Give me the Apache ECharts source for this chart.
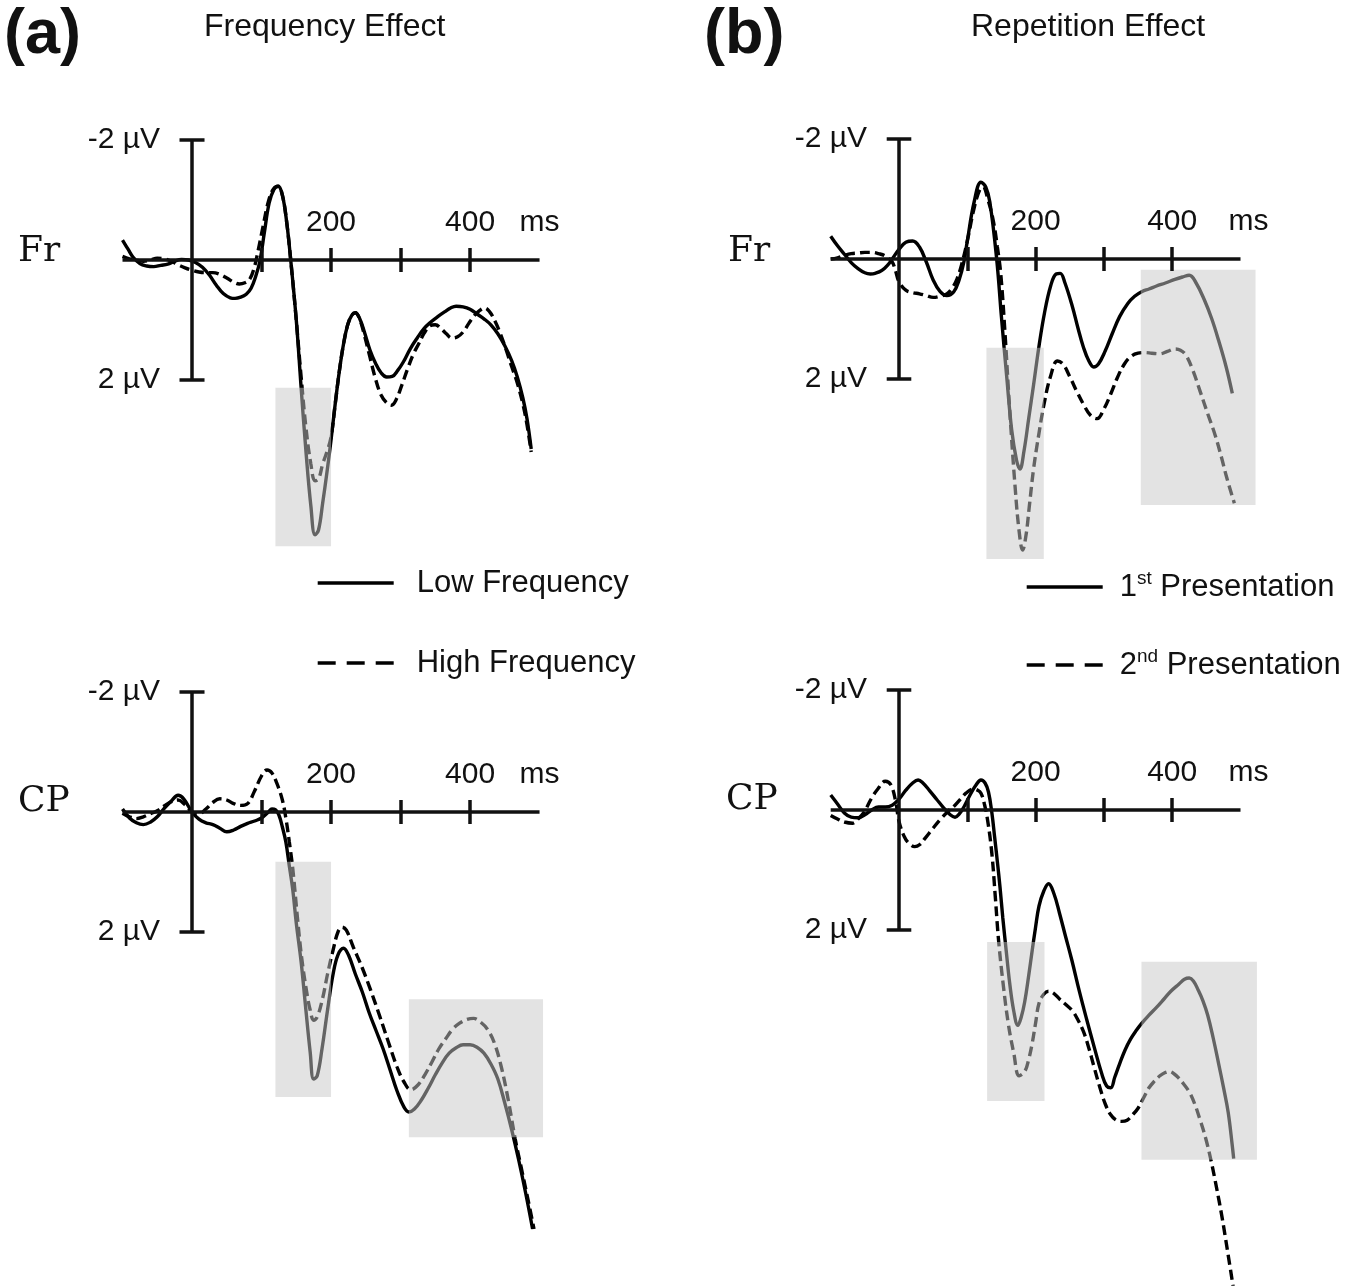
<!DOCTYPE html>
<html><head><meta charset="utf-8">
<script src="https://cdn.jsdelivr.net/npm/echarts@6/dist/echarts.min.js"></script>
<style>html,body{margin:0;padding:0;background:#fff}#c{width:1372px;height:1288px}</style>
</head><body><div id="c"></div>
<script>
// ---------- data (time in ms, amplitude in µV; negative plotted up) ----------
const aFrLow = [[-100,-0.33],[-92,-0.18],[-85,-0.05],[-75,0.06],[-65,0.1],[-55,0.11],[-45,0.09],[-35,0.07],[-25,0.02],[-15,-0.01],[-5,0.0],[5,0.04],[15,0.12],[25,0.25],[35,0.42],[45,0.56],[55,0.63],[62,0.64],[70,0.62],[78,0.57],[85,0.47],[92,0.26],[98,0.0],[104,-0.45],[111,-0.95],[118,-1.18],[124,-1.23],[130,-1.08],[136,-0.65],[142,0.0],[150,1.0],[157,2.13],[164,3.2],[171,4.1],[177,4.58],[182,4.5],[188,4.05],[194,3.55],[200,3.0],[206,2.4],[212,1.85],[218,1.4],[224,1.08],[230,0.92],[235,0.88],[241,0.97],[248,1.2],[256,1.5],[264,1.72],[272,1.88],[280,1.95],[288,1.94],[296,1.84],[304,1.7],[314,1.48],[324,1.3],[334,1.14],[344,1.03],[354,0.94],[364,0.86],[372,0.8],[380,0.77],[390,0.78],[400,0.82],[410,0.9],[420,0.98],[430,1.08],[440,1.23],[450,1.43],[460,1.68],[468,1.95],[476,2.3],[482,2.65],[488,3.15]];
const aFrHigh = [[-100,-0.06],[-90,-0.02],[-80,0.0],[-70,0.02],[-60,0.0],[-50,-0.03],[-40,-0.02],[-30,0.02],[-20,0.08],[-10,0.13],[0,0.17],[10,0.2],[20,0.21],[30,0.21],[40,0.24],[50,0.3],[60,0.37],[68,0.4],[76,0.38],[83,0.32],[89,0.15],[95,-0.15],[102,-0.55],[110,-0.98],[117,-1.18],[124,-1.23],[130,-1.08],[136,-0.65],[142,0.0],[150,1.0],[157,1.95],[164,2.8],[171,3.4],[177,3.68],[182,3.65],[188,3.4],[194,3.2],[200,2.95],[206,2.4],[212,1.85],[218,1.4],[224,1.08],[230,0.92],[235,0.88],[241,0.98],[248,1.25],[256,1.62],[264,1.98],[272,2.25],[280,2.38],[287,2.42],[294,2.32],[302,2.08],[310,1.82],[318,1.58],[326,1.4],[334,1.22],[342,1.1],[350,1.08],[358,1.14],[366,1.23],[374,1.3],[382,1.28],[390,1.2],[398,1.06],[406,0.93],[414,0.84],[421,0.8],[428,0.86],[436,1.02],[444,1.24],[452,1.5],[460,1.78],[468,2.05],[476,2.4],[482,2.75],[488,3.2]];
const aCPLow = [[-100,-0.05],[-90,0.1],[-80,0.18],[-70,0.21],[-60,0.17],[-50,0.08],[-40,-0.06],[-30,-0.18],[-20,-0.28],[-12,-0.22],[0,0.0],[10,0.12],[20,0.18],[30,0.21],[40,0.27],[50,0.33],[60,0.3],[70,0.24],[80,0.19],[90,0.15],[100,0.1],[110,0.0],[115,-0.05],[120,-0.04],[125,0.05],[130,0.25],[135,0.5],[140,0.9],[145,1.3],[150,1.85],[157,2.5],[163,3.2],[170,4.0],[175,4.45],[180,4.4],[187,3.95],[195,3.3],[203,2.7],[210,2.38],[218,2.27],[225,2.38],[235,2.7],[245,3.0],[255,3.35],[265,3.65],[275,3.95],[285,4.3],[295,4.65],[305,4.92],[312,5.0],[320,4.95],[330,4.8],[340,4.6],[350,4.38],[360,4.18],[370,4.02],[380,3.93],[390,3.88],[400,3.88],[410,3.92],[420,4.02],[430,4.2],[440,4.45],[450,4.85],[460,5.3],[470,5.8],[480,6.35],[490,6.95]];
const aCPHigh = [[-100,0.02],[-90,0.08],[-80,0.11],[-70,0.08],[-60,0.03],[-50,-0.02],[-40,-0.1],[-30,-0.17],[-20,-0.2],[-10,-0.12],[0,0.0],[10,0.03],[20,-0.05],[30,-0.16],[40,-0.22],[50,-0.2],[60,-0.14],[70,-0.11],[80,-0.14],[90,-0.35],[100,-0.6],[108,-0.7],[115,-0.65],[122,-0.48],[130,-0.2],[135,0.1],[140,0.5],[145,0.95],[152,1.8],[158,2.45],[165,3.0],[170,3.3],[175,3.47],[180,3.42],[188,3.1],[195,2.7],[203,2.3],[210,2.0],[216,1.92],[222,1.97],[232,2.25],[245,2.6],[257,2.97],[270,3.4],[283,3.85],[295,4.25],[305,4.5],[315,4.63],[325,4.55],[335,4.38],[345,4.17],[355,3.95],[365,3.78],[375,3.62],[385,3.52],[395,3.46],[405,3.44],[415,3.5],[425,3.62],[435,3.85],[445,4.25],[455,4.8],[465,5.45],[475,6.0],[485,6.55],[492,6.95]];
const bFrFirst = [[-100,-0.38],[-90,-0.22],[-80,-0.08],[-70,0.06],[-60,0.16],[-50,0.23],[-42,0.25],[-35,0.24],[-25,0.19],[-15,0.08],[-10,0.0],[0,-0.16],[10,-0.28],[20,-0.3],[30,-0.2],[40,0.05],[50,0.35],[60,0.54],[70,0.61],[80,0.55],[88,0.35],[95,0.05],[100,-0.3],[110,-0.95],[120,-1.28],[127,-1.2],[133,-0.95],[143,0.0],[150,0.97],[158,2.0],[165,2.85],[172,3.35],[177,3.5],[183,3.2],[190,2.65],[197,2.1],[205,1.45],[213,0.9],[222,0.45],[230,0.25],[236,0.24],[243,0.4],[254,0.8],[262,1.15],[270,1.47],[278,1.7],[285,1.8],[292,1.75],[302,1.53],[312,1.25],[323,0.96],[335,0.74],[345,0.62],[356,0.54],[366,0.5],[377,0.45],[390,0.4],[404,0.34],[415,0.3],[425,0.27],[435,0.4],[447,0.68],[458,1.0],[468,1.36],[479,1.8],[488,2.24]];
const bFrSecond = [[-100,0.0],[-90,-0.02],[-80,-0.06],[-70,-0.09],[-60,-0.1],[-50,-0.11],[-40,-0.11],[-30,-0.09],[-20,-0.05],[-10,0.05],[-5,0.2],[0,0.38],[10,0.52],[20,0.56],[30,0.58],[40,0.61],[50,0.64],[60,0.62],[70,0.58],[78,0.48],[85,0.33],[92,0.08],[100,-0.3],[110,-0.85],[118,-1.15],[123,-1.2],[130,-1.0],[138,-0.64],[144,-0.2],[149,0.25],[155,1.2],[162,2.5],[170,3.8],[176,4.55],[181,4.85],[186,4.6],[191,4.1],[197,3.5],[205,2.9],[213,2.38],[222,1.95],[232,1.7],[240,1.75],[250,1.96],[260,2.2],[270,2.42],[280,2.6],[290,2.66],[300,2.5],[310,2.25],[320,1.97],[330,1.75],[340,1.62],[350,1.57],[360,1.56],[370,1.57],[382,1.58],[393,1.54],[404,1.5],[412,1.52],[420,1.6],[430,1.85],[441,2.21],[452,2.58],[463,2.94],[472,3.3],[480,3.65],[491,4.07]];
const bCPFirst = [[-100,-0.25],[-90,-0.1],[-80,0.05],[-70,0.12],[-60,0.13],[-50,0.08],[-40,0.0],[-30,-0.05],[-20,-0.05],[-10,-0.08],[0,-0.18],[10,-0.33],[20,-0.45],[28,-0.5],[35,-0.45],[45,-0.32],[55,-0.18],[65,-0.04],[75,0.08],[82,0.12],[88,0.07],[95,-0.05],[105,-0.27],[113,-0.42],[120,-0.5],[126,-0.45],[131,-0.3],[136,0.05],[140,0.45],[144,0.86],[148,1.3],[152,1.8],[157,2.35],[162,2.88],[168,3.35],[174,3.59],[179,3.45],[184,3.2],[190,2.75],[195,2.34],[200,1.95],[205,1.6],[212,1.35],[219,1.23],[227,1.4],[235,1.72],[243,2.07],[253,2.5],[264,3.02],[275,3.5],[286,3.96],[297,4.4],[304,4.6],[310,4.63],[316,4.45],[323,4.23],[331,4.0],[339,3.82],[347,3.68],[355,3.56],[366,3.42],[377,3.29],[388,3.15],[398,3.02],[410,2.9],[418,2.82],[425,2.8],[431,2.85],[438,3.0],[445,3.18],[452,3.42],[460,3.8],[468,4.23],[475,4.62],[482,5.04],[488,5.6],[490,5.81]];
const bCPSecond = [[-100,0.09],[-90,0.15],[-80,0.2],[-68,0.22],[-60,0.15],[-52,0.05],[-40,-0.2],[-31,-0.35],[-20,-0.48],[-12,-0.42],[-5,-0.15],[0,0.19],[8,0.45],[15,0.56],[23,0.61],[30,0.58],[39,0.46],[50,0.3],[61,0.15],[72,0.02],[82,-0.08],[90,-0.18],[98,-0.28],[109,-0.35],[115,-0.33],[120,-0.28],[125,-0.1],[130,0.19],[136,0.73],[141,1.45],[146,2.2],[153,2.95],[160,3.56],[168,4.05],[176,4.43],[184,4.36],[190,4.15],[195,3.89],[200,3.55],[205,3.22],[212,3.07],[219,3.02],[227,3.06],[235,3.15],[245,3.25],[254,3.35],[262,3.5],[270,3.69],[278,3.97],[286,4.3],[294,4.62],[302,4.9],[310,5.08],[318,5.17],[326,5.19],[334,5.17],[342,5.08],[350,4.97],[358,4.8],[366,4.63],[374,4.52],[382,4.43],[389,4.38],[396,4.36],[403,4.4],[409,4.46],[417,4.57],[425,4.7],[433,4.9],[441,5.17],[449,5.47],[457,5.85],[465,6.3],[473,6.79],[481,7.35],[490,8.0]];

// shaded analysis windows: [t start, t end, µV top, µV bottom]
const boxesAFr = [[120, 200, 2.13, 4.77]];
const boxesACP = [[120, 200, 0.83, 4.75], [312, 505, 3.12, 5.42]];
const boxesBFr = [[128, 212, 1.48, 5.08], [354, 522, 0.18, 4.1]];
const boxesBCP = [[129, 213, 2.2, 4.85], [355, 524, 2.53, 5.83]];

const timeTicks = [100, 200, 300, 400];
const timeLabels = {200: '200', 400: '400', 500: 'ms'};
const voltLabels = {'-2': '-2 µV', '2': '2 µV'};
const timeSpan = [-100, 500];
const voltSpan = [-2, 2];
const legendA = ['Low Frequency', 'High Frequency'];
const legendB = ['1st Presentation', '2nd Presentation'];
const panelTitles = ['Frequency Effect', 'Repetition Effect'];
const panelTags = ['(a)', '(b)'];
const siteNames = ['Fr', 'CP'];

// ---------- layout / style ----------
const SANS = 'Liberation Sans, Arial, sans-serif';
const SERIF = 'DejaVu Serif, serif';
const INK = '#111';
const PX_PER_UV = 60;

const panels = [
  {grid: {left: 122.5, top: 140, width: 424, height: 420}, pxPerMs: 0.695, xMax: 510, yMax: 5, solid: aFrLow, dashed: aFrHigh, boxes: boxesAFr, names: legendA, msPad: 0},
  {grid: {left: 122.5, top: 692, width: 424, height: 594}, pxPerMs: 0.695, xMax: 510, yMax: 7.9, solid: aCPLow, dashed: aCPHigh, boxes: boxesACP, names: legendA, msPad: 0},
  {grid: {left: 830.7, top: 139, width: 430.3, height: 420}, pxPerMs: 0.683, xMax: 530, yMax: 5, solid: bFrFirst, dashed: bFrSecond, boxes: boxesBFr, names: legendB, msPad: 16},
  {grid: {left: 830.7, top: 690, width: 430.3, height: 594}, pxPerMs: 0.683, xMax: 530, yMax: 7.9, solid: bCPFirst, dashed: bCPSecond, boxes: boxesBCP, names: legendB, msPad: 16}
];

const grids = [], xAxes = [], yAxes = [], series = [];
panels.forEach((p, i) => {
  grids.push(Object.assign({containLabel: false, outerBoundsMode: 'none'}, p.grid));
  // axes sit at the grid edges and are shifted onto the zero lines with a (negative) offset
  xAxes.push({
    type: 'value', gridIndex: i, min: timeSpan[0], max: p.xMax, interval: 100, position: 'top',
    offset: -(0 - (-2)) * PX_PER_UV,
    axisLine: {show: false, onZero: false}, axisTick: {show: false}, splitLine: {show: false},
    axisLabel: {
      margin: 22, fontSize: 30, color: INK, fontFamily: SANS,
      formatter: v => timeLabels[v] ? (v === 500 ? '{ms|ms}' : timeLabels[v]) : '',
      rich: {ms: {fontSize: 30, color: INK, fontFamily: SANS, padding: [0, 0, 0, p.msPad]}}
    }
  });
  yAxes.push({
    type: 'value', gridIndex: i, inverse: true, min: -2, max: p.yMax, interval: 2, position: 'left',
    offset: -(0 - timeSpan[0]) * p.pxPerMs,
    axisLine: {show: false, onZero: false}, axisTick: {show: false}, splitLine: {show: false},
    axisLabel: {margin: 32, fontSize: 30, color: INK, fontFamily: SANS, formatter: v => voltLabels[String(v)] || ''}
  });
  const common = {type: 'line', xAxisIndex: i, yAxisIndex: i, symbol: 'none', smooth: 0.4, z: 2, silent: true};
  series.push(Object.assign({}, common, {name: p.names[0], data: p.solid, lineStyle: {color: '#000', width: 3.4, type: 'solid'}, itemStyle: {color: '#000'}}));
  series.push(Object.assign({}, common, {name: p.names[1], data: p.dashed, lineStyle: {color: '#000', width: 3.4, type: [10, 5]}, itemStyle: {color: '#000'}}));
  // axis skeleton + shaded windows
  const capHalf = 18, tickHalf = 0.2;
  const lines = [
    [{coord: [timeSpan[0], 0]}, {coord: [timeSpan[1], 0]}],
    [{coord: [0, voltSpan[0]]}, {coord: [0, voltSpan[1]]}],
    [{coord: [-capHalf, voltSpan[0]]}, {coord: [capHalf, voltSpan[0]]}],
    [{coord: [-capHalf, voltSpan[1]]}, {coord: [capHalf, voltSpan[1]]}]
  ].concat(timeTicks.map(t => [{coord: [t, -tickHalf]}, {coord: [t, tickHalf]}]));
  series.push({
    type: 'line', name: 'frame' + i, xAxisIndex: i, yAxisIndex: i, data: [], silent: true,
    markArea: {
      silent: true, z: 4,
      itemStyle: {color: 'rgba(200,200,200,0.5)'},
      data: p.boxes.map(b => [{coord: [b[0], b[2]]}, {coord: [b[1], b[3]]}])
    },
    markLine: {
      silent: true, z: 5, symbol: ['none', 'none'], label: {show: false},
      lineStyle: {color: INK, width: 3.5, type: 'solid'},
      emphasis: {disabled: true},
      data: lines
    }
  });
});

const supFmt = name => name.replace(/^(\d)(st|nd|rd|th)/, '$1{sup|$2}');
const legendCommon = {
  orient: 'vertical', padding: 0, itemWidth: 76, itemHeight: 20, selectedMode: false,
  lineStyle: {width: 3.4}, itemStyle: {opacity: 0}
};
const legends = [
  Object.assign({}, legendCommon, {
    left: 316, top: 565, itemGap: 44,
    data: [{name: legendA[0]}, {name: legendA[1], lineStyle: {type: [18, 11]}}],
    formatter: n => '{g|}' + n,
    textStyle: {fontSize: 31, lineHeight: 36, color: INK, fontFamily: SANS, rich: {g: {width: 18}}}
  }),
  Object.assign({}, legendCommon, {
    left: 1025, top: 569, itemGap: 42,
    data: [{name: legendB[0]}, {name: legendB[1], lineStyle: {type: [18, 11]}}],
    formatter: n => '{g|}' + supFmt(n),
    textStyle: {fontSize: 31, lineHeight: 36, color: INK, fontFamily: SANS,
      rich: {g: {width: 12}, sup: {fontSize: 19, lineHeight: 18, verticalAlign: 'top', color: INK, fontFamily: SANS}}}
  })
];

const titles = [
  {text: panelTags[0], left: 4, top: 4, padding: 0, textStyle: {fontSize: 63, fontWeight: 'bold', color: INK, fontFamily: SANS}},
  {text: panelTitles[0], left: 204, top: 11, padding: 0, textStyle: {fontSize: 32, fontWeight: 'normal', color: INK, fontFamily: SANS}},
  {text: panelTags[1], left: 704, top: 4, padding: 0, textStyle: {fontSize: 63, fontWeight: 'bold', color: INK, fontFamily: SANS}},
  {text: panelTitles[1], left: 971, top: 11, padding: 0, textStyle: {fontSize: 32, fontWeight: 'normal', color: INK, fontFamily: SANS}},
  {text: siteNames[0], left: 18, top: 234, padding: 0, textStyle: {fontSize: 36, fontWeight: 'normal', color: INK, fontFamily: SERIF}},
  {text: siteNames[1], left: 18, top: 784, padding: 0, textStyle: {fontSize: 36, fontWeight: 'normal', color: INK, fontFamily: SERIF}},
  {text: siteNames[0], left: 728, top: 234, padding: 0, textStyle: {fontSize: 36, fontWeight: 'normal', color: INK, fontFamily: SERIF}},
  {text: siteNames[1], left: 726, top: 782, padding: 0, textStyle: {fontSize: 36, fontWeight: 'normal', color: INK, fontFamily: SERIF}}
];

const chart = echarts.init(document.getElementById('c'), null, {renderer: 'canvas'});
chart.setOption({
  backgroundColor: '#fff',
  animation: false,
  title: titles,
  legend: legends,
  grid: grids,
  xAxis: xAxes,
  yAxis: yAxes,
  series: series
});
</script>
</body></html>
